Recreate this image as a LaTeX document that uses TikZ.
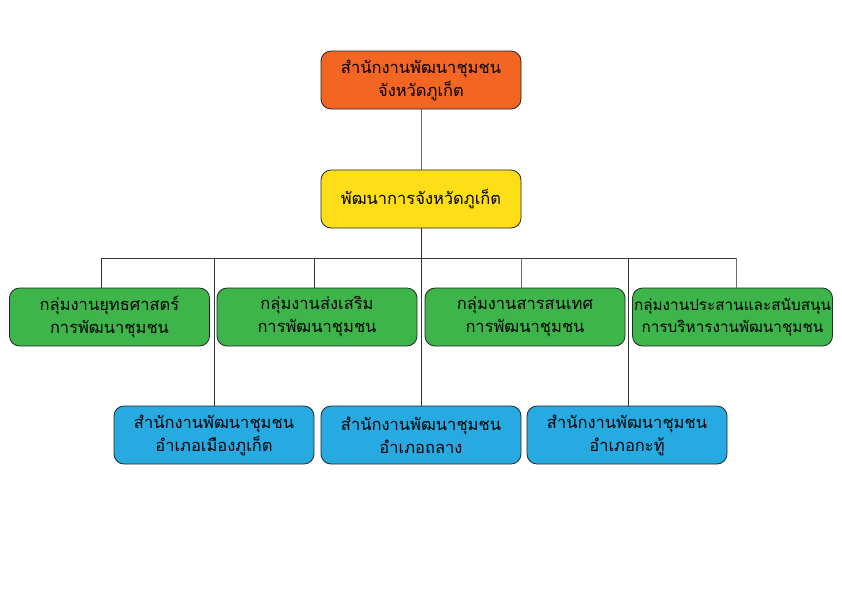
\documentclass[tikz,border=0pt]{standalone}
\usepackage{fontspec}
\newfontfamily\thaifont[Script=Thai]{Loma}
\definecolor{corange}{HTML}{F26522}
\definecolor{cyellow}{HTML}{FFDE17}
\definecolor{cgreen}{HTML}{3DB54A}
\definecolor{cblue}{HTML}{27AAE1}
\definecolor{lgray}{HTML}{6D6D6D}
\begin{document}
\begin{tikzpicture}[x=1pt,y=-1pt,
  box/.style={draw=black!85, line width=0.8pt, rounded corners=10pt, minimum width=200pt, minimum height=58pt, inner sep=0pt, align=center, font=\thaifont\fontsize{16.5}{23}\selectfont},
  topbox/.style={box, fill=corange},
  midbox/.style={box, fill=cyellow},
  grpbox/.style={box, fill=cgreen},
  disbox/.style={box, fill=cblue},
  link/.style={draw=lgray, line width=1pt},
  dlink/.style={draw=black!80, line width=0.9pt}]
\useasboundingbox (0,0) rectangle (842,595);
\node[topbox] (top) at (421,80) {สำนักงานพัฒนาชุมชน\\จังหวัดภูเก็ต};
\node[midbox] (mid) at (421,199) {พัฒนาการจังหวัดภูเก็ต};
\node[grpbox] (g1) at (109.5,317) {กลุ่มงานยุทธศาสตร์\\การพัฒนาชุมชน};
\node[grpbox] (g2) at (317,317) {กลุ่มงานส่งเสริม\\การพัฒนาชุมชน};
\node[grpbox] (g3) at (525,317) {กลุ่มงานสารสนเทศ\\การพัฒนาชุมชน};
\node[grpbox, font=\thaifont\fontsize{15.3}{22}\selectfont] (g4) at (732.5,317) {กลุ่มงานประสานและสนับสนุน\\การบริหารงานพัฒนาชุมชน};
\node[disbox] (d1) at (214,435) {สำนักงานพัฒนาชุมชน\\อำเภอเมืองภูเก็ต};
\node[disbox] (d2) at (421,435) {สำนักงานพัฒนาชุมชน\\อำเภอถลาง};
\node[disbox] (d3) at (627,435) {สำนักงานพัฒนาชุมชน\\อำเภอกะทู้};
\coordinate (b1) at (101,258);
\coordinate (b2) at (314,258);
\coordinate (b3) at (521,258);
\coordinate (b4) at (736,258);
\coordinate (bd1) at (214,258);
\coordinate (bd3) at (628,258);
\draw[link] (top) -- (mid);
\draw[dlink] (b1) -- (b4);
\draw[dlink] (mid) -- (d2);
\draw[dlink] (b1) -- (b1 |- g1.north);
\draw[dlink] (b2) -- (b2 |- g2.north);
\draw[link] (b3) -- (b3 |- g3.north);
\draw[link] (b4) -- (b4 |- g4.north);
\draw[dlink] (bd1) -- (d1.north);
\draw[dlink] (bd3) -- (bd3 |- d3.north);
\end{tikzpicture}
\end{document}
